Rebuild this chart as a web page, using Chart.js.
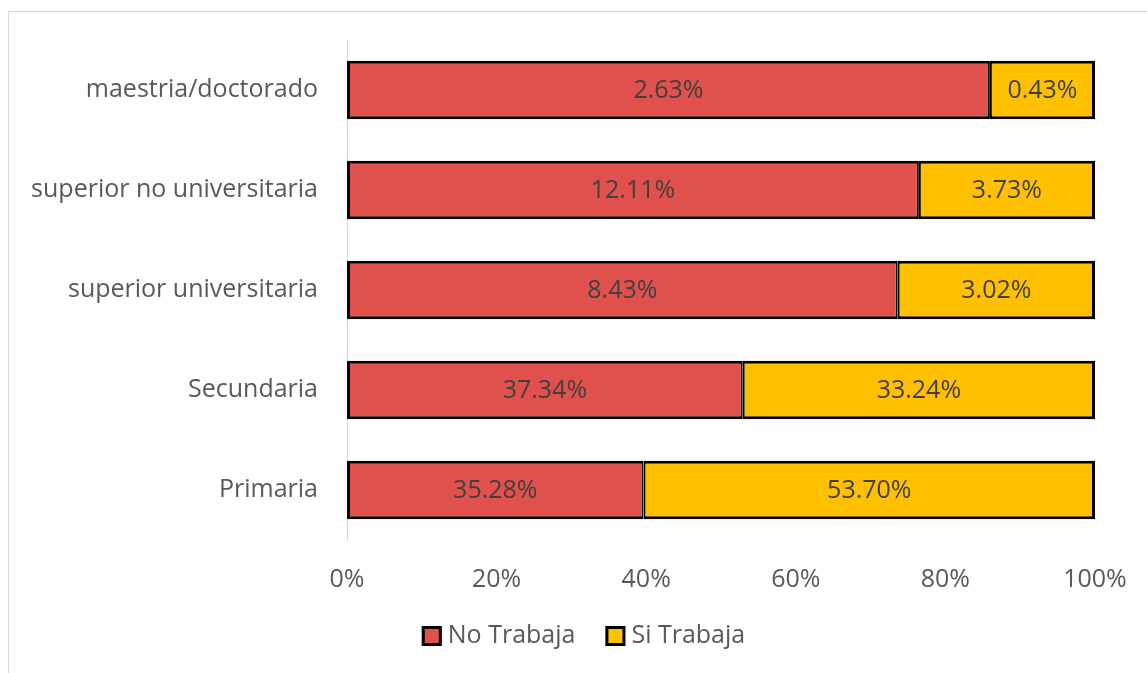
<!DOCTYPE html>
<html><head><meta charset="utf-8">
<script src="https://cdn.jsdelivr.net/npm/chart.js"></script>
<style>
html,body{margin:0;padding:0;background:#fff;overflow:hidden;width:1147px;height:673px}
#frame{position:absolute;left:8px;top:11px;width:1170px;height:720px;border:1px solid #d9d9d9;box-sizing:border-box}
#c{position:absolute;left:0;top:0}
</style></head><body>
<div id="frame"></div>
<canvas id="c" width="1147" height="673"></canvas>
<script>
const categories = ['maestria/doctorado', 'superior no universitaria', 'superior universitaria', 'Secundaria', 'Primaria'];
const noTrabaja = [2.63, 12.11, 8.43, 37.34, 35.28];
const siTrabaja = [0.43, 3.73, 3.02, 33.24, 53.70];
const seriesNames = ['No Trabaja', 'Si Trabaja'];
const seriesColors = ['#E0504D', '#FFC000'];
const xTickValues = [0, 20, 40, 60, 80, 100];

const FONT = "'Open Sans', sans-serif";
const totals = noTrabaja.map((v, i) => v + siTrabaja[i]);
const shareNo = noTrabaja.map((v, i) => v / totals[i] * 100);
const shareSi = siTrabaja.map((v, i) => v / totals[i] * 100);
const rawValues = [noTrabaja, siTrabaja];

const dataLabels = {
  id: 'dataLabels',
  afterDatasetsDraw(chart) {
    const ctx = chart.ctx;
    ctx.save();
    ctx.font = "25px " + FONT;
    ctx.fillStyle = '#404040';
    ctx.textAlign = 'center';
    ctx.textBaseline = 'middle';
    chart.data.datasets.forEach((ds, di) => {
      const meta = chart.getDatasetMeta(di);
      meta.data.forEach((bar, i) => {
        const cx = (bar.x + bar.base) / 2;
        ctx.fillText(rawValues[di][i].toFixed(2) + '%', cx, bar.y + 1);
      });
    });
    ctx.restore();
  }
};

const customLegend = {
  id: 'customLegend',
  afterDraw(chart) {
    const ctx = chart.ctx;
    ctx.save();
    ctx.font = "25px " + FONT;
    ctx.textBaseline = 'middle';
    ctx.textAlign = 'left';
    const box = 20, gapText = 6, gapItem = 30;
    const widths = chart.data.datasets.map(ds => box + gapText + ctx.measureText(ds.label).width);
    const total = widths.reduce((a, b) => a + b, 0) + gapItem * (widths.length - 1);
    let x = chart.width / 2 + 10 - total / 2;
    const y = 636;
    chart.data.datasets.forEach((ds, i) => {
      ctx.fillStyle = ds.backgroundColor;
      ctx.fillRect(x, y - 10, box, box);
      ctx.strokeStyle = '#000';
      ctx.lineWidth = 3;
      ctx.strokeRect(x + 1.5, y - 8.5, box - 3, box - 3);
      ctx.fillStyle = '#595959';
      ctx.fillText(ds.label, x + box + gapText, y);
      x += widths[i] + gapItem;
    });
    ctx.restore();
  }
};

new Chart(document.getElementById('c'), {
  type: 'bar',
  data: {
    labels: categories,
    datasets: [
      { label: seriesNames[0], data: shareNo, backgroundColor: seriesColors[0], borderColor: '#000',
        borderWidth: { left: 3, top: 3, bottom: 3, right: 2 }, borderSkipped: false },
      { label: seriesNames[1], data: shareSi, backgroundColor: seriesColors[1], borderColor: '#000',
        borderWidth: { left: 2, top: 3, bottom: 3, right: 3 }, borderSkipped: false }
    ]
  },
  options: {
    indexAxis: 'y',
    responsive: false,
    animation: false,
    devicePixelRatio: 1,
    barPercentage: 0.585,
    categoryPercentage: 1,
    layout: { padding: { top: 40, right: 52, left: 0, bottom: 0 } },
    plugins: { legend: { display: false }, tooltip: { enabled: false } },
    scales: {
      x: {
        stacked: true, min: 0, max: 100,
        afterBuildTicks(scale) { scale.ticks = xTickValues.map(v => ({ value: v })); },
        afterFit(scale) { scale.height = 133; scale.paddingLeft = 0; scale.paddingRight = 0; },
        grid: { display: false, drawTicks: false },
        border: { display: false },
        ticks: { padding: 25, color: '#595959', font: { family: FONT, size: 25 }, callback: v => v + '%' }
      },
      y: {
        stacked: true,
        afterFit(scale) { scale.width = 347; scale.paddingTop = 0; scale.paddingBottom = 0; },
        grid: { display: false, drawTicks: false },
        border: { display: true, color: '#D9D9D9', width: 1 },
        ticks: { padding: 29, color: '#595959', font: { family: FONT, size: 25 } }
      }
    }
  },
  plugins: [dataLabels, customLegend]
});
</script>
</body></html>
